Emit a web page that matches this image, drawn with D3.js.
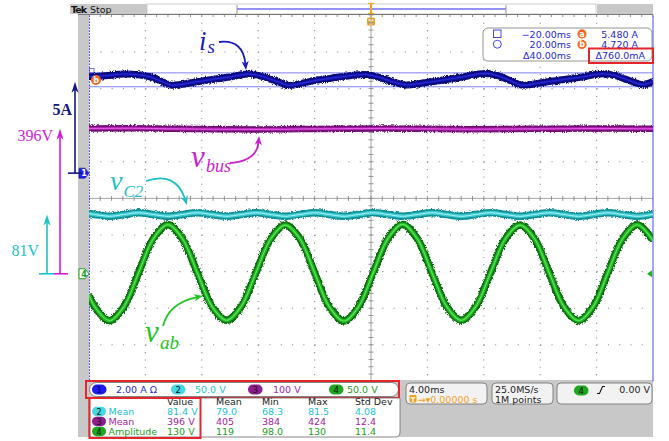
<!DOCTYPE html>
<html>
<head>
<meta charset="utf-8">
<script src="https://cdn.jsdelivr.net/npm/d3@7/dist/d3.min.js"></script>
<style>
  html, body { margin: 0; padding: 0; background: #ffffff; }
  svg { display: block; }
  .ui { font-family: "DejaVu Sans", sans-serif; font-size: 9.5px; }
  .note { font-family: "Liberation Serif", "DejaVu Serif", serif; }
</style>
</head>
<body>
<svg id="scope" width="669" height="441"></svg>
<script>
// ---------------- acquisition records (time in ms) ----------------
// CH1: input current i_s (A)
const tIs = [-20.0, -18.87, -17.45, -16.38, -15.53, -14.82, -14.11, -13.40, -12.48, -11.28,
             -10.0, -8.72, -7.87, -7.16, -6.45, -5.82, -5.04, -3.97, -2.91, -1.63,
             -0.43, 0.50, 1.35, 2.55, 3.48, 4.89, 6.45, 8.09, 8.94, 9.86,
             10.78, 11.99, 13.40, 14.96, 16.45, 17.30, 18.23, 19.29, 20.0];
const iS  = [5.27, 5.32, 5.42, 5.36, 5.23, 5.01, 4.80, 4.85, 4.98, 5.12,
             5.25, 5.42, 5.32, 5.14, 4.95, 4.79, 4.89, 5.06, 5.18, 5.31,
             5.39, 5.25, 5.04, 4.82, 4.90, 5.06, 5.25, 5.45, 5.34, 5.06,
             4.80, 4.93, 5.09, 5.25, 5.43, 5.34, 5.09, 4.84, 5.01];

// CH3: dc bus voltage v_bus (V)
const tBus = [-20, -17, -14, -11, -8, -5, -2, 1, 4, 7, 10, 13, 16, 19, 20];
const vBus = [397, 397.5, 396, 395, 394.5, 395.5, 396.5, 397, 396, 395, 395.5, 396.5, 397, 396.5, 396.5];

// CH4: converter voltage v_ab (V) and CH2: capacitor voltage v_C2 (V), common time base
const tAc = [-20, -19.60, -18.56, -17.52, -16.48, -15.44, -14.40, -13.36, -12.32, -11.28,
             -10.24, -9.20, -8.16, -7.12, -6.08, -5.04, -4.00, -2.96, -1.92, -0.88,
             0.16, 1.20, 2.24, 3.28, 4.32, 5.36, 6.40, 7.44, 8.48, 9.52,
             10.56, 11.60, 12.64, 13.68, 14.72, 15.76, 16.80, 17.84, 18.88, 19.92, 20];
const vAb = [-29, -44.8, -64, -44.8, 1.5, 47.8, 67, 47.5, 1.5, -44.5,
             -63.5, -44.5, 1.5, 47.5, 66.5, 47.8, 1.5, -45, -64.5, -45,
             1.5, 48, 67.5, 48, 1.5, -44.5, -63.5, -44.5, 1.5, 47.5,
             66.5, 47.8, 1.5, -44.8, -64, -44.8, 1.5, 47.8, 67, 47.8, 44.9];
const vC2 = [82.3, 81.0, 78.7, 81.0, 83.3, 81.0, 78.7, 81.0, 83.3, 81.0,
             78.7, 81.0, 83.3, 81.0, 78.7, 81.0, 83.3, 81.0, 78.7, 81.0,
             83.3, 81.0, 78.7, 81.0, 83.3, 81.0, 78.7, 81.0, 83.3, 81.0,
             78.7, 81.0, 83.3, 81.0, 78.7, 81.0, 83.3, 81.0, 78.7, 81.0, 81.3];

// ---------------- channel settings ----------------
const chIds = ["1", "2", "3", "4"];
const chPerDiv = [2, 50, 100, 50];
const chScaleText = ["2.00 A  \u03A9", "50.0 V", "100 V", "50.0 V"];
const chOffsetDiv = [0.69, -2.06, -2.06, -2.06];

// cursor readouts
const cursorTimes = [-20, 20];
const cursorAmps = [5.48, 4.72];

// measurement table
const measCh = ["2", "3", "4"];
const measName = ["Mean", "Mean", "Amplitude"];
const measValue = ["81.4 V", "396 V", "130 V"];
const measMean = ["79.0", "405", "119"];
const measMin = ["68.3", "384", "98.0"];
const measMax = ["81.5", "424", "130"];
const measStd = ["4.08", "12.4", "11.4"];
const measHeads = ["Value", "Mean", "Min", "Max", "Std Dev"];

// annotation levels
const arrowLabels = ["5A", "396V", "81V"];
const arrowValues = [5, 396, 81];

// ---------------- styling ----------------
const chText = ["#2727d6", "#22c4d4", "#a21ea2", "#1c9e1c"];
const chBadge = ["#1c1cf0", "#46d8e2", "#8e1c8e", "#1ea61e"];
const grayUI = "#c8c8c8";
const red = "#e5242c";
const orange = "#f26a21";

const svg = d3.select("#scope");
const defs = svg.append("defs");
const fz = defs.append("filter").attr("id", "fuzz").attr("filterUnits", "userSpaceOnUse")
  .attr("x", 0).attr("y", 0).attr("width", 669).attr("height", 441);
fz.append("feTurbulence").attr("type", "fractalNoise").attr("baseFrequency", "0.9 0.7")
  .attr("numOctaves", 2).attr("seed", 7).attr("result", "n");
fz.append("feDisplacementMap").attr("in", "SourceGraphic").attr("in2", "n").attr("scale", 4)
  .attr("xChannelSelector", "R").attr("yChannelSelector", "G");

// graticule geometry
const X0 = 89, X1 = 653, Y0 = 15.4, Y1 = 381.4;
const x = d3.scaleLinear().domain([-20, 20]).range([X0, X1]);
const gy = d3.scaleLinear().domain([-5, 5]).range([Y1, Y0]);
const chY = chPerDiv.map((p, i) =>
  d3.scaleLinear().domain([(-5 - chOffsetDiv[i]) * p, (5 - chOffsetDiv[i]) * p]).range([Y1, Y0]));

defs.append("clipPath").attr("id", "plotClip").append("rect")
  .attr("x", X0).attr("y", Y0).attr("width", X1 - X0).attr("height", Y1 - Y0);

// ---------------- record bar on top ----------------
const recBar = svg.append("g");
recBar.append("rect").attr("x", 70).attr("y", 4).attr("width", 77).attr("height", 10).attr("fill", grayUI);
recBar.append("rect").attr("x", 147).attr("y", 4).attr("width", 449).attr("height", 10)
  .attr("fill", "#fff").attr("stroke", "#c4c4c4").attr("stroke-width", 0.8);
recBar.append("rect").attr("x", 597).attr("y", 4).attr("width", 56).attr("height", 10).attr("fill", grayUI);
recBar.append("line").attr("x1", 237).attr("x2", 506).attr("y1", 9).attr("y2", 9)
  .attr("stroke", "#6f6ff2").attr("stroke-width", 1.4);
[237, 506].forEach(v => recBar.append("line").attr("x1", v).attr("x2", v).attr("y1", 5).attr("y2", 14)
  .attr("stroke", "#9a9a9a").attr("stroke-width", 1));
recBar.append("text").attr("x", 71).attr("y", 13).attr("font-family", "DejaVu Sans")
  .attr("font-size", 9.5).attr("font-weight", "bold").attr("letter-spacing", -0.9).attr("fill", "#111").text("Tek");
recBar.append("text").attr("x", 90).attr("y", 13).attr("class", "ui").attr("font-size", 9).attr("fill", "#111").text("Stop");
recBar.append("line").attr("x1", 78).attr("x2", X1).attr("y1", 14.5).attr("y2", 14.5).attr("stroke", "#555").attr("stroke-width", 0.8);
recBar.selectAll(".rt").data(d3.range(-20, 20.01, 0.8)).join("line")
  .attr("x1", d => x(d)).attr("x2", d => x(d)).attr("y1", 14.5).attr("y2", 17)
  .attr("stroke", "#777").attr("stroke-width", 0.8);

// trigger position marker
recBar.append("line").attr("x1", x(0)).attr("x2", x(0)).attr("y1", 3).attr("y2", 14)
  .attr("stroke", "#f3a21f").attr("stroke-width", 2);
recBar.append("line").attr("x1", x(0) - 3).attr("x2", x(0) + 3).attr("y1", 3.5).attr("y2", 3.5).attr("stroke", "#f3a21f").attr("stroke-width", 1.2);
recBar.append("line").attr("x1", x(0) - 3).attr("x2", x(0) + 3).attr("y1", 13.5).attr("y2", 13.5).attr("stroke", "#f3a21f").attr("stroke-width", 1.2);
recBar.append("rect").attr("x", x(0) - 4).attr("y", 17.5).attr("width", 8).attr("height", 8).attr("rx", 1.5).attr("fill", "#f3a21f");
recBar.append("text").attr("x", x(0)).attr("y", 24.5).attr("text-anchor", "middle").attr("font-family", "DejaVu Sans")
  .attr("font-size", 7.5).attr("font-weight", "bold").attr("fill", "#fff").text("T");

// left gray strip and lower panel
svg.append("rect").attr("x", 78).attr("y", 15).attr("width", 11).attr("height", 422).attr("fill", grayUI);
svg.append("rect").attr("x", 78).attr("y", 380).attr("width", X1 - 78).attr("height", 57).attr("fill", grayUI);

// ---------------- graticule ----------------
const grid = svg.append("g").attr("clip-path", "url(#plotClip)");
grid.selectAll(".gv").data(d3.range(-16, 17, 4).filter(v => v !== 0)).join("line")
  .attr("x1", d => x(d)).attr("x2", d => x(d)).attr("y1", Y0).attr("y2", Y1)
  .attr("stroke", "#8e8e8e").attr("stroke-width", 1.1).attr("stroke-dasharray", "1.1 6.22");
grid.selectAll(".gh").data([-4, -3, -2, -1, 1, 2, 3, 4]).join("line")
  .attr("x1", X0).attr("x2", X1).attr("y1", d => gy(d)).attr("y2", d => gy(d))
  .attr("stroke", "#8e8e8e").attr("stroke-width", 1.1).attr("stroke-dasharray", "1.1 10.18");
grid.append("line").attr("x1", x(0)).attr("x2", x(0)).attr("y1", Y0).attr("y2", Y1).attr("stroke", "#9a9a9a").attr("stroke-width", 0.9);
grid.append("line").attr("x1", X0).attr("x2", X1).attr("y1", gy(0)).attr("y2", gy(0)).attr("stroke", "#9a9a9a").attr("stroke-width", 0.9);
grid.selectAll(".tx").data(d3.range(-20, 20.01, 0.8)).join("line")
  .attr("x1", d => x(d)).attr("x2", d => x(d)).attr("y1", gy(0) - 2.5).attr("y2", gy(0) + 2.5)
  .attr("stroke", "#8a8a8a").attr("stroke-width", 0.9);
grid.selectAll(".ty").data(d3.range(-5, 5.01, 0.2)).join("line")
  .attr("x1", x(0) - 2.5).attr("x2", x(0) + 2.5).attr("y1", d => gy(d)).attr("y2", d => gy(d))
  .attr("stroke", "#8a8a8a").attr("stroke-width", 0.9);

// ---------------- cursors ----------------
const cur = svg.append("g");
cur.append("line").attr("x1", x(cursorTimes[0]) + 0.5).attr("x2", x(cursorTimes[0]) + 0.5).attr("y1", Y0).attr("y2", Y1)
  .attr("stroke", "#3434e6").attr("stroke-width", 1).attr("stroke-dasharray", "1.5 1.5");
cur.append("line").attr("x1", x(cursorTimes[1])).attr("x2", x(cursorTimes[1])).attr("y1", Y0).attr("y2", Y1)
  .attr("stroke", "#6a6af0").attr("stroke-width", 1.2);
cursorAmps.forEach(a => cur.append("line").attr("x1", X0).attr("x2", X1)
  .attr("y1", chY[0](a)).attr("y2", chY[0](a)).attr("stroke", "#8080f4").attr("stroke-width", 1));
cur.append("rect").attr("x", X0 + 0.5).attr("y", chY[0](cursorAmps[0]) - 4.5).attr("width", 4.5).attr("height", 4.5)
  .attr("fill", "none").attr("stroke", "#5050f0").attr("stroke-width", 0.8);

// ---------------- traces ----------------
function drawTrace(ts, vs, ys, curve, st) {
  const gen = d3.line().x((d, i) => x(ts[i])).y(d => ys(d)).curve(curve);
  const dStr = gen(vs);
  const g = svg.append("g").attr("fill", "none").attr("clip-path", "url(#plotClip)")
    .attr("stroke-linejoin", "round");
  g.append("path").attr("d", dStr).attr("stroke", st.edge).attr("stroke-width", st.w).attr("filter", "url(#fuzz)");
  g.append("path").attr("d", dStr).attr("stroke", st.edge).attr("stroke-width", st.w - 1.5);
  g.append("path").attr("d", dStr).attr("stroke", st.body).attr("stroke-width", st.w - 3.6);
  g.append("path").attr("d", dStr).attr("stroke", st.core).attr("stroke-width", 1.1);
}
drawTrace(tAc, vAb, chY[3], d3.curveCatmullRom.alpha(0.5), { edge: "#0d6e10", body: "#22b722", core: "#5ee35e", w: 7.5 });
drawTrace(tAc, vC2, chY[1], d3.curveCatmullRom.alpha(0.5), { edge: "#118f95", body: "#3cc9cf", core: "#a6f1f4", w: 7.5 });
drawTrace(tBus, vBus, chY[2], d3.curveMonotoneX, { edge: "#6e0f70", body: "#b21cb4", core: "#e05ee0", w: 6.5 });
drawTrace(tIs, iS, chY[0], d3.curveMonotoneX, { edge: "#0a0a78", body: "#1212a6", core: "#2b2bd8", w: 7 });

// ---------------- channel ground markers ----------------
const mk = svg.append("g");
const g1 = chY[0](0), g4 = chY[3](0);
mk.append("path").attr("d", `M79,${g1 - 5}h6l4,5l-4,5h-6z`).attr("fill", "#2222ee").attr("stroke", "#111188").attr("stroke-width", 0.6);
mk.append("text").attr("x", 84).attr("y", g1 + 3.3).attr("text-anchor", "middle").attr("font-family", "DejaVu Sans")
  .attr("font-size", 8).attr("font-weight", "bold").attr("fill", "#fff").text("1");
mk.append("path").attr("d", `M79,${g4 - 5}h6l4,5l-4,5h-6z`).attr("fill", "#fff").attr("stroke", "#1c9e1c").attr("stroke-width", 1);
mk.append("text").attr("x", 84).attr("y", g4 + 3.3).attr("text-anchor", "middle").attr("font-family", "DejaVu Sans")
  .attr("font-size", 8).attr("font-weight", "bold").attr("fill", "#1c9e1c").text("4");
mk.append("path").attr("d", `M${X1 - 6},${g4}l5,-3.5v7z`).attr("fill", "#1cb21c");
mk.append("circle").attr("cx", 96).attr("cy", 80).attr("r", 5).attr("fill", orange);
mk.append("text").attr("x", 96).attr("y", 83).attr("text-anchor", "middle").attr("font-family", "DejaVu Sans")
  .attr("font-size", 8).attr("font-weight", "bold").attr("fill", "#fff").text("b");

// ---------------- level arrows on the left ----------------
const lv = svg.append("g");
function levelArrow(xp, y0, y1, x0b, x1b, color, w) {
  lv.append("line").attr("x1", x0b).attr("x2", x1b).attr("y1", y0).attr("y2", y0).attr("stroke", color).attr("stroke-width", w);
  lv.append("line").attr("x1", xp).attr("x2", xp).attr("y1", y0).attr("y2", y1 + 8).attr("stroke", color).attr("stroke-width", w);
  lv.append("path").attr("d", `M${xp},${y1}L${xp - 3.5},${y1 + 11}L${xp},${y1 + 8}L${xp + 3.5},${y1 + 11}Z`).attr("fill", color);
}
const navy = "#16167e", mag = "#d41cd4", cyan = "#1cc2c6";
levelArrow(75, g1, chY[0](arrowValues[0]), 68, 82, navy, 1.6);
levelArrow(60, chY[2](0), chY[2](arrowValues[1]), 54, 68, mag, 1.6);
levelArrow(47, chY[1](0), chY[1](arrowValues[2]), 39, 54, cyan, 1.6);
lv.append("text").attr("class", "note").attr("x", 72).attr("y", 115).attr("text-anchor", "end")
  .attr("font-size", 16).attr("font-weight", "bold").attr("fill", navy).text(arrowLabels[0]);
lv.append("text").attr("class", "note").attr("x", 53).attr("y", 141).attr("text-anchor", "end")
  .attr("font-size", 16).attr("fill", mag).text(arrowLabels[1]);
lv.append("text").attr("class", "note").attr("x", 39).attr("y", 256).attr("text-anchor", "end")
  .attr("font-size", 16).attr("fill", cyan).text(arrowLabels[2]);

// ---------------- trace labels ----------------
const an = svg.append("g");
function curvedArrow(p0, c, p1, color) {
  const ang = Math.atan2(p1[1] - c[1], p1[0] - c[0]);
  const L = 9, hw = 3.6;
  const bx = p1[0] - L * Math.cos(ang), by = p1[1] - L * Math.sin(ang);
  const p = d3.path();
  p.moveTo(p0[0], p0[1]);
  p.quadraticCurveTo(c[0], c[1], bx + 3 * Math.cos(ang), by + 3 * Math.sin(ang));
  an.append("path").attr("d", p.toString()).attr("fill", "none").attr("stroke", color).attr("stroke-width", 1.8);
  const nx = -Math.sin(ang), ny = Math.cos(ang);
  an.append("path").attr("d",
    `M${p1[0]},${p1[1]}L${bx + nx * hw},${by + ny * hw}L${bx + 2.5 * Math.cos(ang)},${by + 2.5 * Math.sin(ang)}L${bx - nx * hw},${by - ny * hw}Z`)
    .attr("fill", color);
}
function label(xp, yp, main, sub, size, subSize, dx, dy, color) {
  an.append("text").attr("class", "note").attr("x", xp).attr("y", yp).attr("font-style", "italic")
    .attr("font-size", size).attr("fill", color).text(main);
  an.append("text").attr("class", "note").attr("x", xp + dx).attr("y", yp + dy).attr("font-style", "italic")
    .attr("font-size", subSize).attr("fill", color).text(sub);
}
const isCol = "#1c1cb8", busCol = "#cc22cc", c2Col = "#1fbfc6", abCol = "#22c322";
label(199, 50, "i", "s", 27, 19, 8.5, 3, isCol);
curvedArrow([219, 42], [243, 39], [246, 70], isCol);
label(191, 167, "v", "bus", 31, 18, 15, 5, busCol);
curvedArrow([230, 163], [257, 161], [259, 136], busCol);
label(110, 190, "v", "C2", 28, 17, 13.5, 7, c2Col);
curvedArrow([146, 181], [176, 171], [187, 205], c2Col);
label(145, 342, "v", "ab", 31, 19, 15, 7, abCol);
curvedArrow([163, 326], [169, 303], [203, 296], abCol);

// ---------------- cursor readout box ----------------
const rb = svg.append("g").attr("class", "ui");
rb.append("rect").attr("x", 483).attr("y", 28).attr("width", 169).attr("height", 33).attr("rx", 5)
  .attr("fill", "#fff").attr("stroke", "#7a7a7a").attr("stroke-width", 0.8);
rb.append("rect").attr("x", 493.5).attr("y", 30).attr("width", 7.5).attr("height", 7.5)
  .attr("fill", "none").attr("stroke", "#3434d8").attr("stroke-width", 0.9);
rb.append("circle").attr("cx", 497.3).attr("cy", 44.2).attr("r", 4).attr("fill", "none").attr("stroke", "#3434d8").attr("stroke-width", 0.9);
const fmtT = v => (v < 0 ? "\u2212" : "") + Math.abs(v).toFixed(2) + "ms";
const rowsY = [37.5, 48, 58.5];
rb.append("text").attr("x", 571).attr("y", rowsY[0]).attr("text-anchor", "end").attr("fill", chText[0]).text(fmtT(cursorTimes[0]));
rb.append("text").attr("x", 571).attr("y", rowsY[1]).attr("text-anchor", "end").attr("fill", chText[0]).text(fmtT(cursorTimes[1]));
rb.append("text").attr("x", 571).attr("y", rowsY[2]).attr("text-anchor", "end").attr("fill", chText[0])
  .text("\u0394" + (cursorTimes[1] - cursorTimes[0]).toFixed(2) + "ms");
["a", "b"].forEach((c, i) => {
  rb.append("circle").attr("cx", 582).attr("cy", rowsY[i] - 3.6).attr("r", 4.6).attr("fill", orange);
  rb.append("text").attr("x", 582).attr("y", rowsY[i] - 0.6).attr("text-anchor", "middle").attr("font-size", 8)
    .attr("font-weight", "bold").attr("fill", "#fff").text(c);
  rb.append("text").attr("x", 638).attr("y", rowsY[i]).attr("text-anchor", "end").attr("fill", chText[0])
    .text(cursorAmps[i].toFixed(3) + " A");
});
rb.append("text").attr("x", 645).attr("y", rowsY[2]).attr("text-anchor", "end").attr("fill", chText[0])
  .text("\u0394" + ((cursorAmps[0] - cursorAmps[1]) * 1000).toFixed(1) + "mA");
rb.append("rect").attr("x", 589).attr("y", 48.5).attr("width", 64).attr("height", 14.5)
  .attr("fill", "none").attr("stroke", red).attr("stroke-width", 2);

// ---------------- channel settings row ----------------
const cr = svg.append("g").attr("class", "ui");
cr.append("rect").attr("x", 89.5).attr("y", 382.5).attr("width", 309).attr("height", 14).attr("rx", 7)
  .attr("fill", "#fff").attr("stroke", "#6a6a6a").attr("stroke-width", 0.8);
const badgeX = [92, 171, 248, 329];
const textX = [116, 195, 273, 347];
chIds.forEach((id, i) => {
  cr.append("rect").attr("x", badgeX[i]).attr("y", 384.5).attr("width", 14.5).attr("height", 10).attr("rx", 5)
    .attr("fill", chBadge[i]);
  cr.append("text").attr("x", badgeX[i] + 7.2).attr("y", 393).attr("text-anchor", "middle").attr("font-size", 8.5)
    .attr("fill", i === 0 ? "#000060" : "#111").text(id);
  cr.append("text").attr("x", textX[i]).attr("y", 393.3).attr("fill", chText[i]).text(chScaleText[i]);
});
cr.append("rect").attr("x", 86).attr("y", 381).attr("width", 313).attr("height", 17)
  .attr("fill", "none").attr("stroke", red).attr("stroke-width", 2);

// ---------------- measurement table ----------------
const mt = svg.append("g").attr("class", "ui");
mt.append("path").attr("d", "M89,398H400V432Q400,437 395,437H89Z").attr("fill", "#fff")
  .attr("stroke", "#6a6a6a").attr("stroke-width", 0.8);
const colX = [167, 216, 262, 308, 355];
const rowY = [405, 415, 425, 435];
measHeads.forEach((h, j) => mt.append("text").attr("x", colX[j]).attr("y", rowY[0]).attr("fill", "#222").text(h));
const measCols = [measValue, measMean, measMin, measMax, measStd];
measCh.forEach((c, i) => {
  const ci = +c - 1;
  const yy = rowY[i + 1];
  mt.append("rect").attr("x", 92).attr("y", yy - 8.3).attr("width", 14).attr("height", 9.5).attr("rx", 4.7).attr("fill", chBadge[ci]);
  mt.append("text").attr("x", 99).attr("y", yy - 0.5).attr("text-anchor", "middle").attr("font-size", 8).attr("fill", "#111").text(c);
  mt.append("text").attr("x", 108.5).attr("y", yy).attr("fill", chText[ci]).text(measName[i]);
  measCols.forEach((col, j) => mt.append("text").attr("x", colX[j]).attr("y", yy).attr("fill", chText[ci]).text(col[i]));
});
mt.append("rect").attr("x", 89.5).attr("y", 398).attr("width", 111).attr("height", 40)
  .attr("fill", "none").attr("stroke", red).attr("stroke-width", 2);

// ---------------- timebase / acquisition / trigger boxes ----------------
const tb = svg.append("g").attr("class", "ui");
[[406, 81], [492, 61], [557, 95]].forEach(([bx, bw]) =>
  tb.append("rect").attr("x", bx).attr("y", 383).attr("width", bw).attr("height", 21).attr("rx", 4)
    .attr("fill", "#f2f2f2").attr("stroke", "#6a6a6a").attr("stroke-width", 0.8));
tb.append("text").attr("x", 409).attr("y", 392.5).attr("fill", "#222").text("4.00ms");
tb.append("rect").attr("x", 409.5).attr("y", 395).attr("width", 7).attr("height", 7.5).attr("rx", 1).attr("fill", "#f3a21f");
tb.append("text").attr("x", 413).attr("y", 401.8).attr("text-anchor", "middle").attr("font-size", 6.5)
  .attr("font-weight", "bold").attr("fill", "#fff").text("T");
tb.append("text").attr("x", 417.5).attr("y", 402.5).attr("fill", "#f3a21f").text("\u2192\u25BE0.00000 s");
tb.append("text").attr("x", 495).attr("y", 392.5).attr("fill", "#222").text("25.0MS/s");
tb.append("text").attr("x", 495).attr("y", 402.5).attr("fill", "#222").text("1M points");
tb.append("rect").attr("x", 574).attr("y", 385.5).attr("width", 14.5).attr("height", 10).attr("rx", 5).attr("fill", chBadge[3]);
tb.append("text").attr("x", 581.2).attr("y", 393.8).attr("text-anchor", "middle").attr("font-size", 8.5).attr("fill", "#111").text("4");
tb.append("path").attr("d", "M597,393.5h2.5l3,-7h2.5").attr("fill", "none").attr("stroke", "#111").attr("stroke-width", 1.1);
tb.append("text").attr("x", 650).attr("y", 393).attr("text-anchor", "end").attr("fill", "#222").text("0.00 V");
</script>
</body>
</html>
